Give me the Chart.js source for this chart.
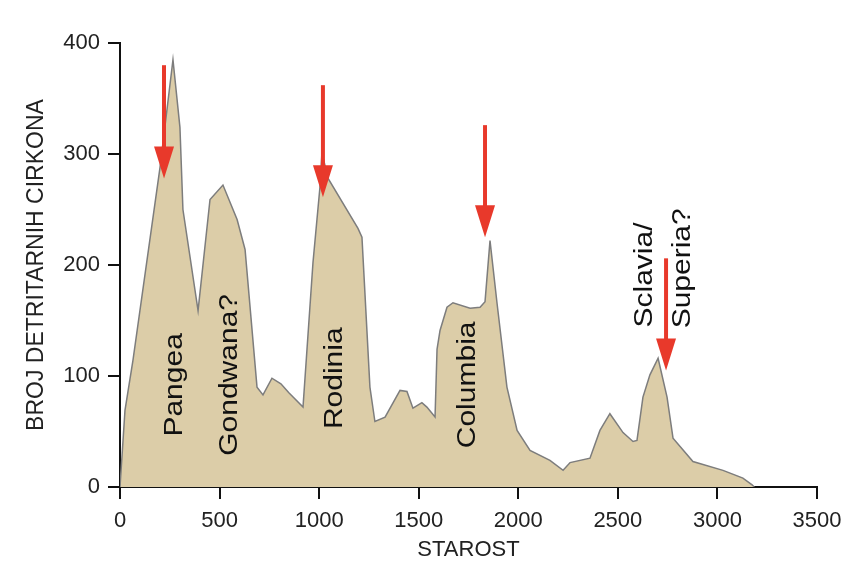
<!DOCTYPE html>
<html>
<head>
<meta charset="utf-8">
<script src="https://cdn.jsdelivr.net/npm/chart.js@4/dist/chart.umd.min.js"></script>
<style>
  html, body { margin: 0; padding: 0; background: #fff; }
  #wrap { width: 842px; height: 562px; }
</style>
</head>
<body>
<div id="wrap"><canvas id="chart" width="842" height="562"></canvas></div>
<script>
// age (Ma) and zircon count
const ages = [0, 25, 65, 201, 266, 301, 316, 392, 452, 517, 588, 628, 688, 718, 763, 808, 848, 919,
  969, 1004, 1014, 1045, 1195, 1215, 1255, 1280, 1331, 1406, 1441, 1471, 1516, 1541, 1582,
  1592, 1607, 1642, 1672, 1758, 1808, 1833, 1858, 1893, 1943, 1994, 2059, 2159, 2225, 2260,
  2360, 2410, 2460, 2526, 2576, 2596, 2626, 2661, 2702, 2747, 2777, 2877, 3028, 3128, 3174, 3185];
const counts = [0, 69, 114, 288, 385, 324, 250, 159, 259, 272, 241, 214, 90, 83, 98, 93, 85, 72,
  202, 270, 301, 278, 233, 225, 90, 59, 63, 87, 86, 71, 76, 72, 63,
  124, 141, 162, 166, 161, 162, 167, 222, 166, 90, 51, 33, 24, 15, 22,
  26, 51, 66, 49, 41, 42, 81, 101, 116, 81, 44, 23, 15, 8, 2, 0];

const xTicks = [0, 500, 1000, 1500, 2000, 2500, 3000, 3500];
const yTicks = [0, 100, 200, 300, 400];

// supercontinent labels
const labelText = ['Pangea', 'Gondwana?', 'Rodinia', 'Columbia', 'Sclavia/', 'Superia?'];
const labelX = [276, 552, 1080, 1748, 2636, 2827];
const labelY = [92, 101, 98, 92, 191, 197];

// red arrows: x position, top of shaft, tip
const arrowX = [221, 1019, 1833, 2742];
const arrowTop = [380, 362, 326, 206];
const arrowTip = [278, 261, 225, 105];

const annotations = {
    id: 'annotations',
    afterDatasetsDraw(chart) {
        const ctx = chart.ctx;
        const xs = chart.scales.x;
        const ys = chart.scales.y;

        ctx.save();
        ctx.fillStyle = '#111';
        ctx.font = '30px "Liberation Sans", Arial, sans-serif';
        ctx.textAlign = 'center';
        ctx.textBaseline = 'middle';
        labelText.forEach((txt, i) => {
            ctx.save();
            ctx.translate(xs.getPixelForValue(labelX[i]), ys.getPixelForValue(labelY[i]));
            ctx.rotate(-Math.PI / 2);
            ctx.scale(1, 0.88);
            ctx.fillText(txt, 0, 0);
            ctx.restore();
        });
        ctx.restore();

        ctx.save();
        ctx.fillStyle = '#e8392b';
        ctx.strokeStyle = '#e8392b';
        ctx.lineWidth = 4;
        arrowX.forEach((ax, i) => {
            const px = xs.getPixelForValue(ax);
            const top = ys.getPixelForValue(arrowTop[i]);
            const tip = ys.getPixelForValue(arrowTip[i]);
            const headH = 32;
            ctx.beginPath();
            ctx.moveTo(px, top);
            ctx.lineTo(px, tip - headH + 2);
            ctx.stroke();
            ctx.beginPath();
            ctx.moveTo(px - 10, tip - headH);
            ctx.lineTo(px + 10, tip - headH);
            ctx.lineTo(px, tip);
            ctx.closePath();
            ctx.fill();
        });
        ctx.restore();
    }
};

new Chart(document.getElementById('chart'), {
    type: 'line',
    data: {
        datasets: [{
            data: ages.map((a, i) => ({ x: a, y: counts[i] })),
            borderColor: '#7d7d7d',
            borderWidth: 1.5,
            backgroundColor: '#dccda8',
            fill: 'origin',
            pointRadius: 0,
            tension: 0
        }]
    },
    options: {
        responsive: false,
        animation: false,
        layout: { padding: { top: 43, right: 25, bottom: 0, left: 0 } },
        plugins: {
            legend: { display: false },
            tooltip: { enabled: false }
        },
        scales: {
            x: {
                type: 'linear',
                min: 0,
                max: 3500,
                afterFit: (scale) => {
                    scale.height = 75;
                    scale.paddingRight = 0;
                    scale.paddingLeft = 0;
                },
                afterBuildTicks: (scale) => { scale.ticks = xTicks.map(v => ({ value: v })); },
                border: { display: true, color: '#111', width: 2 },
                grid: { drawOnChartArea: false, drawTicks: true, tickLength: 12, color: '#111', lineWidth: 2 },
                ticks: {
                    color: '#222',
                    font: { family: '"Liberation Sans", Arial, sans-serif', size: 22 },
                    padding: 9,
                    maxRotation: 0,
                    callback: (v) => String(v)
                },
                title: {
                    display: true,
                    text: 'STAROST',
                    color: '#222',
                    font: { family: '"Liberation Sans", Arial, sans-serif', size: 22, lineHeight: 1 },
                    padding: { top: 0, bottom: 1 }
                }
            },
            y: {
                min: 0,
                max: 400,
                afterFit: (scale) => { scale.width = 120; },
                afterBuildTicks: (scale) => { scale.ticks = yTicks.map(v => ({ value: v })); },
                border: { display: true, color: '#111', width: 2 },
                grid: { drawOnChartArea: false, drawTicks: true, tickLength: 12, color: '#111', lineWidth: 2 },
                ticks: {
                    color: '#222',
                    font: { family: '"Liberation Sans", Arial, sans-serif', size: 22 },
                    padding: 8,
                    callback: (v) => String(v)
                },
                title: {
                    display: true,
                    text: 'BROJ DETRITARNIH CIRKONA',
                    color: '#222',
                    font: { family: '"Liberation Sans", Arial, sans-serif', size: 23 },
                    padding: { top: 23, bottom: 0 }
                }
            }
        }
    },
    plugins: [annotations]
});
</script>
</body>
</html>
